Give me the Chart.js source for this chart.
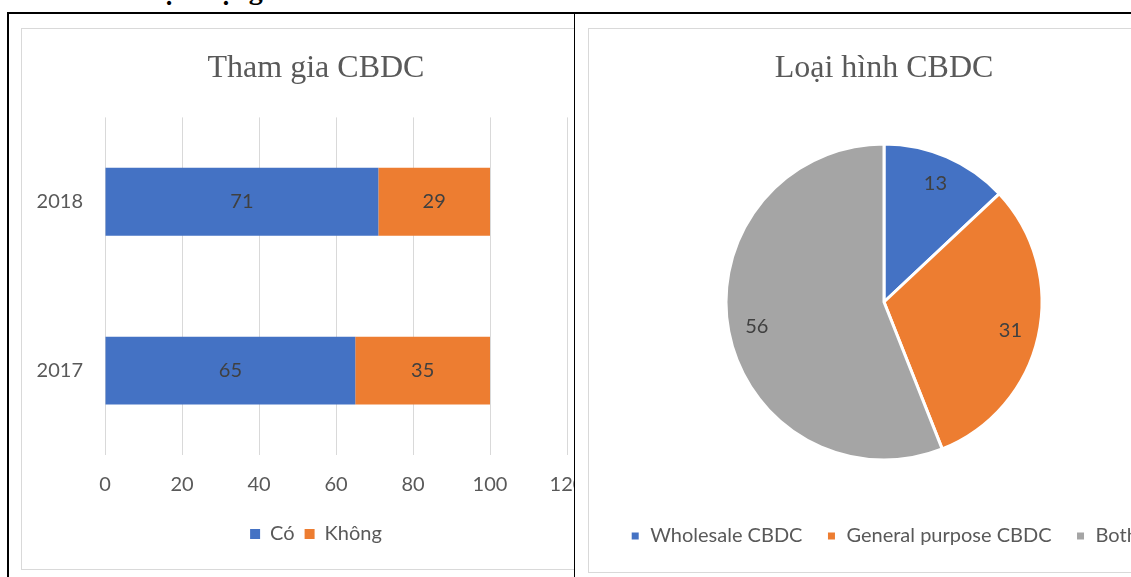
<!DOCTYPE html>
<html lang="vi">
<head>
<meta charset="utf-8">
<title>CBDC</title>
<script src="https://cdn.jsdelivr.net/npm/chart.js@4.4.1/dist/chart.umd.min.js"></script>
<style>
  html, body { margin: 0; padding: 0; background: #fff; width: 1131px; height: 577px; overflow: hidden; position: relative; }
  .heading { position: absolute; left: 127px; top: -24px; font: bold 28px/28px "Liberation Serif", serif; color: #000; white-space: nowrap; }
  .rule { position: absolute; background: #000; }
  .cell { position: absolute; overflow: hidden; }
  .frame { position: absolute; border: 1px solid #d9d9d9; box-sizing: border-box; background: #fff; }
  .frame > div { position: absolute; left: 0; top: 0; }
</style>
</head>
<body>
<div class="heading">Thực trạng</div>
<div class="rule" style="left:7px;top:12px;width:1124px;height:2px"></div>
<div class="rule" style="left:7px;top:12px;width:2px;height:565px"></div>
<div class="rule" style="left:574px;top:12px;width:1px;height:565px"></div>

<div class="cell" style="left:9px;top:14px;width:565px;height:563px">
  <div class="frame" style="left:12px;top:14px;width:590px;height:542px">
    <div style="width:588px;height:540px"><canvas id="barChart"></canvas></div>
  </div>
</div>
<div class="cell" style="left:575px;top:14px;width:556px;height:563px">
  <div class="frame" style="left:13px;top:14px;width:592px;height:545px">
    <div style="width:590px;height:543px"><canvas id="pieChart"></canvas></div>
  </div>
</div>

<script>
// Participation in CBDC work, by year (percent)
const years = ['2018', '2017'];
const coValues = [71, 65];
const khongValues = [29, 35];
const participationSeries = ['Có', 'Không'];

// Type of CBDC under study (percent)
const cbdcTypes = ['Wholesale CBDC', 'General purpose CBDC', 'Both'];
const cbdcShares = [13, 31, 56];

const BLUE = '#4472C4', ORANGE = '#ED7D31', GREY = '#A5A5A5';
const TEXT = '#595959', LABEL = '#404040';

Chart.defaults.font.family = 'Lato';
Chart.defaults.color = TEXT;

// Writes each value on its bar segment or pie slice
const valueLabels = {
  id: 'valueLabels',
  afterDatasetsDraw(chart, args, opts) {
    const ctx = chart.ctx;
    ctx.save();
    ctx.font = opts.size + 'px Lato';
    ctx.fillStyle = opts.color;
    ctx.textAlign = 'center';
    ctx.textBaseline = 'middle';
    chart.data.datasets.forEach((ds, i) => {
      const meta = chart.getDatasetMeta(i);
      meta.data.forEach((el, j) => {
        let p;
        if (el instanceof Chart.ArcElement) {
          const { x, y, startAngle, endAngle, outerRadius } =
            el.getProps(['x', 'y', 'startAngle', 'endAngle', 'outerRadius'], true);
          const a = (startAngle + endAngle) / 2;
          const r = outerRadius * opts.radial;
          p = { x: x + Math.cos(a) * r, y: y + Math.sin(a) * r };
        } else {
          p = el.getCenterPoint(true);
        }
        ctx.fillText(String(ds.data[j]), p.x, p.y);
      });
    });
    ctx.restore();
  }
};

const titleFont = { family: '"Liberation Serif", serif', size: 32, weight: 'normal' };

new Chart(document.getElementById('barChart'), {
  type: 'bar',
  data: {
    labels: years,
    datasets: [
      { label: participationSeries[0], data: coValues, backgroundColor: BLUE },
      { label: participationSeries[1], data: khongValues, backgroundColor: ORANGE }
    ]
  },
  plugins: [valueLabels],
  options: {
    indexAxis: 'y',
    responsive: true,
    maintainAspectRatio: false,
    animation: false,
    datasets: { bar: { categoryPercentage: 0.402, barPercentage: 1 } },
    layout: { padding: { left: 0, right: 0, top: 0, bottom: 15 } },
    scales: {
      x: {
        stacked: true, min: 0, max: 120,
        ticks: { stepSize: 20, padding: 18, color: TEXT, font: { size: 20 } },
        grid: { color: '#d9d9d9', drawTicks: false },
        border: { display: false },
        afterFit(s) { s.height = 59; }
      },
      y: {
        stacked: true,
        ticks: { padding: 22, color: TEXT, font: { size: 20 } },
        grid: { display: false, drawTicks: false },
        border: { display: false },
        afterFit(s) { s.width = 83; }
      },
      // empty right-hand margin beside the plot, keeps title and legend centred on the chart box
      yMargin: {
        type: 'category',
        position: 'right',
        ticks: { display: false },
        grid: { display: false, drawTicks: false },
        border: { display: false },
        afterFit(s) { s.width = 43; }
      }
    },
    plugins: {
      title: { display: true, text: 'Tham gia CBDC', color: TEXT, font: titleFont, padding: { top: 20, bottom: 30 } },
      legend: {
        position: 'bottom',
        labels: { boxWidth: 10, boxHeight: 10, padding: 10, color: TEXT, font: { size: 20 } }
      },
      tooltip: { enabled: false },
      valueLabels: { size: 20, color: LABEL }
    }
  }
});

new Chart(document.getElementById('pieChart'), {
  type: 'pie',
  data: {
    labels: cbdcTypes,
    datasets: [{
      data: cbdcShares,
      backgroundColor: [BLUE, ORANGE, GREY],
      borderColor: '#ffffff',
      borderWidth: 3,
      radius: 158
    }]
  },
  plugins: [valueLabels],
  options: {
    responsive: true,
    maintainAspectRatio: false,
    animation: false,
    layout: { padding: { bottom: 16 } },
    plugins: {
      title: { display: true, text: 'Loại hình CBDC', color: TEXT, font: titleFont, padding: { top: 20, bottom: 14.6 } },
      legend: {
        position: 'bottom',
        labels: { boxWidth: 10, boxHeight: 10, padding: 24, color: TEXT, font: { size: 20 } }
      },
      tooltip: { enabled: false },
      valueLabels: { size: 20, color: LABEL, radial: 0.82 }
    }
  }
});
</script>
</body>
</html>
